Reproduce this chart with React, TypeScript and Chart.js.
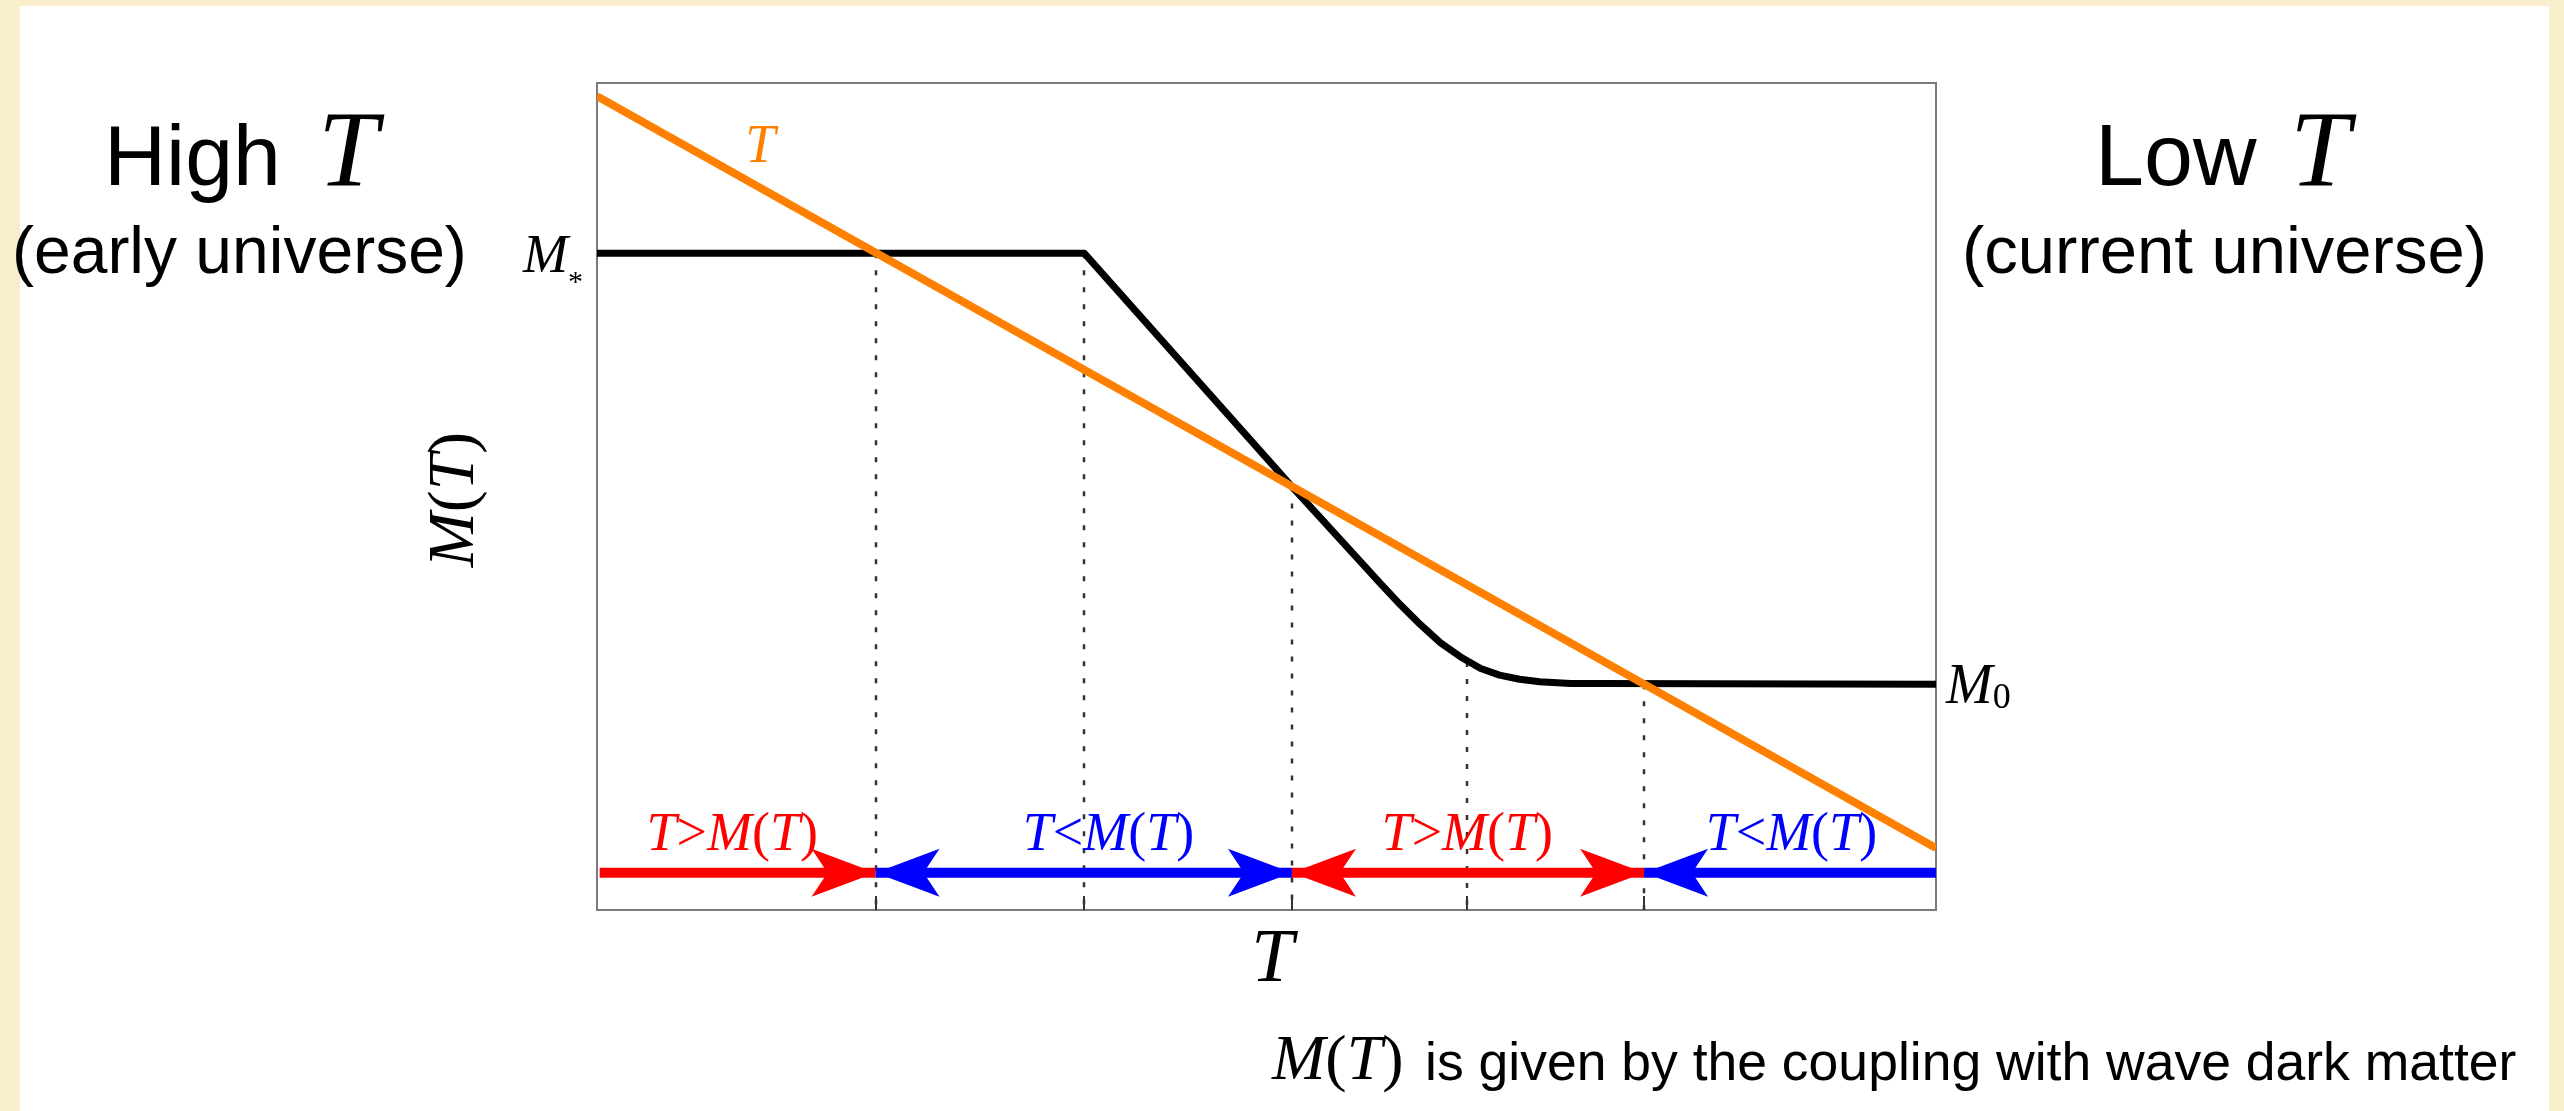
import React, { useEffect, useRef } from 'react';
import { Chart, registerables } from 'chart.js';

Chart.register(...registerables);

// ---------------- data (arbitrary units: x 0..100 along T axis, y 0..100 along M axis) ----------------
const curveX = [0, 36.4, 51.9, 58.5, 60.0, 61.5, 63.0, 64.5, 66.0, 67.4, 68.9, 70.4, 72.7, 74.9, 100];
const curveY = [79.4, 79.4, 51.2, 39.5, 36.9, 34.5, 32.3, 30.6, 29.2, 28.4, 27.9, 27.6, 27.4, 27.4, 27.3];
const tempX = [0, 100];
const tempY = [98.4, 7.5];
const mStar = 79.4;
const mZero = 27.3;
const crossX = [20.8, 36.4, 51.9, 65.0, 78.2];
const crossTop = [79.4, 79.4, 51.2, 30.0, 27.3];
const arrowLevel = 4.5;
const regionStart = [0.2, 20.8, 51.9, 78.2];
const regionEnd = [20.8, 51.9, 78.2, 100];
const regionKind = ['gt', 'lt', 'gt', 'lt'];
const regionLabelX = [10.1, 38.2, 65.0, 89.2];
const regionLabelY = 7.3;
const tempLabelX = 12.2;
const tempLabelY = 90.4;

const X_MIN = 0;
const X_MAX = 100;
const Y_MIN = 0;
const Y_MAX = 100;

// ---------------- styling ----------------
const RED = '#ff0000';
const BLUE = '#0000ff';
const ORANGE = '#ff8000';
const SERIF = '"Liberation Serif", "DejaVu Serif", serif';
const SANS = '"Liberation Sans", Arial, sans-serif';

type Part = { t: string; font: string; dy?: number; color?: string };

function drawRich(ctx: CanvasRenderingContext2D, parts: Part[], x: number, y: number, align: 'left' | 'center' | 'right', color: string) {
  let total = 0;
  for (const p of parts) {
    ctx.font = p.font;
    total += ctx.measureText(p.t).width;
  }
  let cx = align === 'left' ? x : align === 'center' ? x - total / 2 : x - total;
  ctx.textAlign = 'left';
  ctx.textBaseline = 'alphabetic';
  for (const p of parts) {
    ctx.font = p.font;
    ctx.fillStyle = p.color || color;
    ctx.fillText(p.t, cx, y + (p.dy || 0));
    cx += ctx.measureText(p.t).width;
  }
}

function mt(size: number, rel: string): Part[] {
  const it = `italic ${size}px ${SERIF}`;
  const up = `${size}px ${SERIF}`;
  return [
    { t: 'T', font: it },
    { t: rel, font: up },
    { t: 'M', font: it },
    { t: '(', font: up },
    { t: 'T', font: it },
    { t: ')', font: up },
  ];
}

function arrowHead(ctx: CanvasRenderingContext2D, tipX: number, y: number, dir: number) {
  const L = 64;
  const H = 24;
  const N = 48;
  ctx.beginPath();
  ctx.moveTo(tipX, y);
  ctx.lineTo(tipX - dir * L, y - H);
  ctx.lineTo(tipX - dir * N, y);
  ctx.lineTo(tipX - dir * L, y + H);
  ctx.closePath();
  ctx.fill();
}

const overlayPlugin = {
  id: 'overlay',
  beforeDatasetsDraw(chart: any) {
    const { ctx, chartArea } = chart;
    const xs = chart.scales.x;
    const ys = chart.scales.y;
    ctx.save();
    ctx.strokeStyle = '#333';
    ctx.lineWidth = 2.5;
    ctx.setLineDash([5, 12]);
    crossX.forEach((cx, i) => {
      const px = Math.round(xs.getPixelForValue(cx));
      ctx.beginPath();
      ctx.moveTo(px, ys.getPixelForValue(crossTop[i]));
      ctx.lineTo(px, chartArea.bottom);
      ctx.stroke();
    });
    ctx.setLineDash([]);
    ctx.lineWidth = 2;
    crossX.forEach((cx) => {
      const px = Math.round(xs.getPixelForValue(cx));
      ctx.beginPath();
      ctx.moveTo(px, chartArea.bottom);
      ctx.lineTo(px, chartArea.bottom - 14);
      ctx.stroke();
    });
    ctx.restore();
  },
  afterDatasetsDraw(chart: any) {
    const { ctx } = chart;
    const xs = chart.scales.x;
    const ys = chart.scales.y;
    ctx.save();
    const ay = ys.getPixelForValue(arrowLevel);
    regionStart.forEach((s, i) => {
      const color = regionKind[i] === 'gt' ? RED : BLUE;
      const x0 = xs.getPixelForValue(s);
      const x1 = xs.getPixelForValue(regionEnd[i]);
      ctx.strokeStyle = color;
      ctx.fillStyle = color;
      ctx.lineWidth = 10;
      ctx.lineCap = 'butt';
      ctx.beginPath();
      ctx.moveTo(x0, ay);
      ctx.lineTo(x1, ay);
      ctx.stroke();
      if (s > X_MIN + 1) arrowHead(ctx, x0, ay, -1);
      if (regionEnd[i] < X_MAX) arrowHead(ctx, x1, ay, 1);
    });
    regionLabelX.forEach((lx, i) => {
      const color = regionKind[i] === 'gt' ? RED : BLUE;
      drawRich(ctx, mt(54, regionKind[i] === 'gt' ? '>' : '<'), xs.getPixelForValue(lx), ys.getPixelForValue(regionLabelY), 'center', color);
    });
    drawRich(ctx, [{ t: 'T', font: `italic 54px ${SERIF}` }], xs.getPixelForValue(tempLabelX), ys.getPixelForValue(tempLabelY), 'center', ORANGE);
    ctx.restore();
  },
  afterDraw(chart: any) {
    const { ctx, chartArea } = chart;
    const ys = chart.scales.y;
    ctx.save();
    drawRich(
      ctx,
      [
        { t: 'M', font: `italic 54px ${SERIF}` },
        { t: '*', font: `30px ${SERIF}`, dy: 19 },
      ],
      chartArea.left - 14,
      ys.getPixelForValue(mStar) + 19,
      'right',
      '#000'
    );
    drawRich(
      ctx,
      [
        { t: 'M', font: `italic 56px ${SERIF}` },
        { t: '0', font: `36px ${SERIF}`, dy: 5 },
      ],
      chartArea.right + 10,
      ys.getPixelForValue(mZero) + 19,
      'left',
      '#000'
    );
    drawRich(ctx, [{ t: 'T', font: `italic 76px ${SERIF}` }], (chartArea.left + chartArea.right) / 2 + 6, chartArea.bottom + 71, 'center', '#000');
    ctx.translate(chartArea.left - 124, (chartArea.top + chartArea.bottom) / 2 + 3);
    ctx.rotate(-Math.PI / 2);
    drawRich(
      ctx,
      [
        { t: 'M', font: `italic 66px ${SERIF}` },
        { t: '(', font: `66px ${SERIF}` },
        { t: 'T', font: `italic 66px ${SERIF}` },
        { t: ')', font: `66px ${SERIF}` },
      ],
      0,
      0,
      'center',
      '#000'
    );
    ctx.restore();
  },
};

function axis(position: 'bottom' | 'top' | 'left' | 'right', min: number, max: number) {
  return {
    type: 'linear' as const,
    position,
    min,
    max,
    grid: { display: false, drawTicks: false },
    ticks: { display: false },
    border: { display: true, color: '#7a7a7a', width: 2 },
  };
}

function Txt(props: { x: number; base: number; size: number; serif?: boolean; italic?: boolean; children: React.ReactNode }) {
  const k = props.serif ? 0.8375 : 0.8465;
  return (
    <span
      style={{
        position: 'absolute',
        left: props.x,
        top: props.base - k * props.size,
        fontSize: props.size,
        lineHeight: 1,
        fontFamily: props.serif ? SERIF : SANS,
        fontStyle: props.italic ? 'italic' : 'normal',
        whiteSpace: 'nowrap',
        color: '#000',
      }}
    >
      {props.children}
    </span>
  );
}

export default function App() {
  const canvasRef = useRef<HTMLCanvasElement | null>(null);

  useEffect(() => {
    const canvas = canvasRef.current;
    if (!canvas) return;
    const chart = new Chart(canvas, {
      type: 'line',
      data: {
        datasets: [
          {
            label: 'T',
            data: tempX.map((x, i) => ({ x, y: tempY[i] })),
            borderColor: ORANGE,
            borderWidth: 8,
            pointRadius: 0,
            order: 0,
          },
          {
            label: 'M(T)',
            data: curveX.map((x, i) => ({ x, y: curveY[i] })),
            borderColor: '#000',
            borderWidth: 7,
            borderJoinStyle: 'round',
            pointRadius: 0,
            tension: 0,
            order: 1,
          },
        ],
      },
      options: {
        responsive: false,
        animation: false,
        devicePixelRatio: 1,
        layout: { padding: { left: 597, top: 83, right: 628, bottom: 201 } },
        plugins: { legend: { display: false }, tooltip: { enabled: false }, title: { display: false } },
        scales: {
          x: axis('bottom', X_MIN, X_MAX),
          xTop: axis('top', X_MIN, X_MAX),
          y: axis('left', Y_MIN, Y_MAX),
          yRight: axis('right', Y_MIN, Y_MAX),
        },
      } as any,
      plugins: [overlayPlugin],
    });
    return () => chart.destroy();
  }, []);

  return (
    <div style={{ position: 'fixed', left: 0, top: 0, width: 2564, height: 1111, background: '#f8eecb', overflow: 'hidden' }}>
      <div style={{ position: 'absolute', left: 20, top: 6, width: 2529, height: 1105, background: '#ffffff' }} />
      <canvas ref={canvasRef} width={2564} height={1111} style={{ position: 'absolute', left: 0, top: 0, width: 2564, height: 1111 }} />
      <Txt x={104} base={185} size={86}>High</Txt>
      <Txt x={318} base={185} size={108} serif italic>T</Txt>
      <Txt x={12} base={273} size={66}>(early universe)</Txt>
      <Txt x={2095} base={185} size={88}>Low</Txt>
      <Txt x={2290} base={185} size={108} serif italic>T</Txt>
      <Txt x={1962} base={273} size={67}>(current universe)</Txt>
      <Txt x={1272} base={1080} size={64} serif>
        <i>M</i>(<i>T</i>)
      </Txt>
      <Txt x={1425} base={1080} size={53.5}>is given by the coupling with wave dark matter</Txt>
    </div>
  );
}
